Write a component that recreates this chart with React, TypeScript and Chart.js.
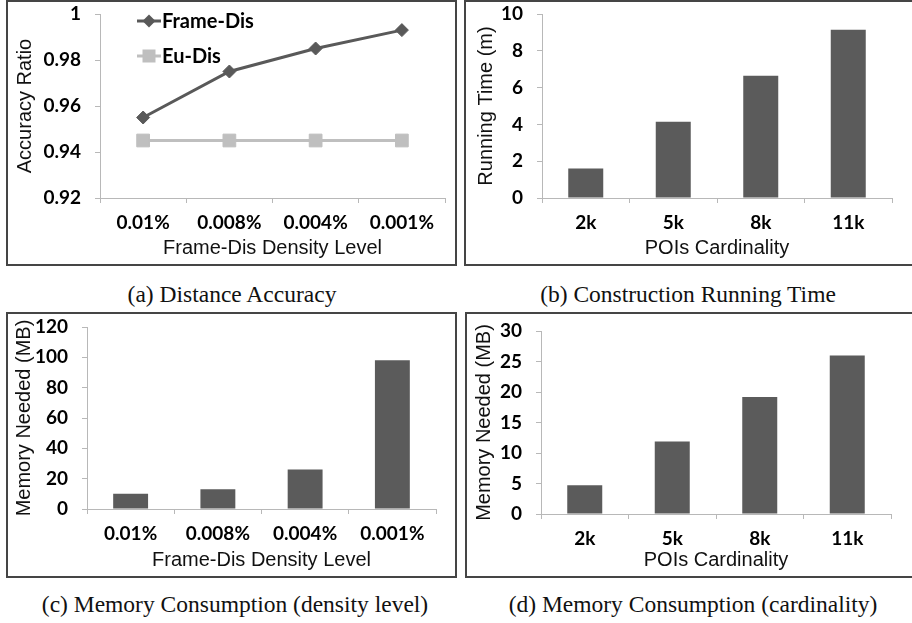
import React, { useEffect, useRef } from 'react';
import { Chart, registerables } from 'chart.js';

Chart.register(...registerables);

// ---------- data ----------
const densityLevels = ['0.01%', '0.008%', '0.004%', '0.001%'];
const cardinalities = ['2k', '5k', '8k', '11k'];

const frameDisAccuracy = [0.955, 0.975, 0.985, 0.993];
const euDisAccuracy = [0.945, 0.945, 0.945, 0.945];

const runningTimeMin = [1.6, 4.15, 6.65, 9.15];
const memoryByDensityMB = [10, 13, 26, 98];
const memoryByCardinalityMB = [4.7, 11.9, 19.2, 26];

const accuracyTicks = [0.92, 0.94, 0.96, 0.98, 1];
const runningTimeTicks = [0, 2, 4, 6, 8, 10];
const memoryDensityTicks = [0, 20, 40, 60, 80, 100, 120];
const memoryCardinalityTicks = [0, 5, 10, 15, 20, 25, 30];

// ---------- styles ----------
const AXIS_GRAY = '#b8b8b8';
const DARK = '#595959';
const LIGHT = '#bfbfbf';
const TICK_FONT = { family: 'Lato, "Open Sans", sans-serif', size: 19, weight: 'bold' as const };
const TITLE_FONT = { family: '"Liberation Sans", Arial, sans-serif', size: 20, weight: 'normal' as const };

function yAxis(ticks: number[], title: string, width: number, titlePad: number) {
  return {
    min: ticks[0],
    max: ticks[ticks.length - 1],
    afterBuildTicks: (s: any) => {
      s.ticks = ticks.map((v) => ({ value: v }));
    },
    afterFit: (s: any) => {
      s.width = width;
      s.paddingTop = 0;
      s.paddingBottom = 0;
    },
    grid: { display: true, drawOnChartArea: false, drawTicks: true, tickLength: 5, color: AXIS_GRAY },
    border: { display: true, color: AXIS_GRAY, width: 1 },
    ticks: { font: TICK_FONT, color: '#000', padding: 14, callback: (v: any) => String(v) },
    title: { display: true, text: title, font: TITLE_FONT, color: '#111', padding: { top: titlePad, bottom: 0 } },
  };
}

function xAxis(height: number, title: string) {
  return {
    type: 'category' as const,
    offset: true,
    afterFit: (s: any) => {
      s.height = height;
      s.paddingLeft = 0;
      s.paddingRight = 0;
    },
    grid: { display: true, offset: true, drawOnChartArea: false, drawTicks: true, tickLength: 5, color: AXIS_GRAY },
    border: { display: true, color: AXIS_GRAY, width: 1 },
    ticks: { font: TICK_FONT, color: '#000', padding: 8, maxRotation: 0, autoSkip: false },
    title: { display: true, text: title, font: TITLE_FONT, color: '#111', padding: { top: 0, bottom: 4 } },
  };
}

function baseOptions(padTop: number, padRight: number) {
  return {
    responsive: false,
    maintainAspectRatio: false,
    animation: false as const,
    layout: { padding: { top: padTop, right: padRight, left: 0, bottom: 0 } },
    plugins: { legend: { display: false }, tooltip: { enabled: false }, title: { display: false } },
  };
}

const accuracyLegend = {
  id: 'accuracyLegend',
  afterDatasetsDraw(chart: any) {
    const { ctx, chartArea } = chart;
    chart.data.datasets.forEach((ds: any, i: number) => {
      const y = chartArea.top + 7 + i * 35;
      const x0 = chartArea.left + 37;
      const x1 = x0 + 24;
      const xm = (x0 + x1) / 2;
      ctx.save();
      ctx.strokeStyle = ds.borderColor;
      ctx.fillStyle = ds.borderColor;
      ctx.lineWidth = 3;
      ctx.beginPath();
      ctx.moveTo(x0, y);
      ctx.lineTo(x1, y);
      ctx.stroke();
      ctx.beginPath();
      if (ds.pointStyle === 'rectRot') {
        const r = 6.5;
        ctx.moveTo(xm, y - r);
        ctx.lineTo(xm + r, y);
        ctx.lineTo(xm, y + r);
        ctx.lineTo(xm - r, y);
        ctx.closePath();
      } else {
        const h = 6.5;
        ctx.rect(xm - h, y - h, 2 * h, 2 * h);
      }
      ctx.fill();
      ctx.font = 'bold 20px Lato, "Open Sans", sans-serif';
      ctx.fillStyle = '#000';
      ctx.textBaseline = 'middle';
      ctx.fillText(ds.label, x1 + 1, y + 1);
      ctx.restore();
    });
  },
};

const configA: any = {
  type: 'line',
  data: {
    labels: densityLevels,
    datasets: [
      {
        label: 'Frame-Dis',
        data: frameDisAccuracy,
        borderColor: DARK,
        backgroundColor: DARK,
        borderWidth: 3,
        pointStyle: 'rectRot',
        pointRadius: 6.5,
        pointBackgroundColor: DARK,
        pointBorderColor: DARK,
        pointBorderWidth: 1,
      },
      {
        label: 'Eu-Dis',
        data: euDisAccuracy,
        borderColor: LIGHT,
        backgroundColor: LIGHT,
        borderWidth: 3,
        pointStyle: 'rect',
        pointRadius: 9,
        pointBackgroundColor: LIGHT,
        pointBorderColor: LIGHT,
        pointBorderWidth: 1,
      },
    ],
  },
  options: {
    ...baseOptions(12, 3),
    scales: {
      x: xAxis(66, 'Frame-Dis Density Level'),
      y: yAxis(accuracyTicks, 'Accuracy Ratio', 92, 5),
    },
  },
  plugins: [accuracyLegend],
};

function barConfig(labels: string[], values: number[], ticks: number[], yTitle: string, xTitle: string,
  yW: number, xH: number, padTop: number, padRight: number, titlePad: number): any {
  return {
    type: 'bar',
    data: {
      labels,
      datasets: [
        {
          data: values,
          backgroundColor: '#5b5b5b',
          borderWidth: 0,
          categoryPercentage: 1,
          barPercentage: 0.4,
        },
      ],
    },
    options: {
      ...baseOptions(padTop, padRight),
      scales: {
        x: xAxis(xH, xTitle),
        y: yAxis(ticks, yTitle, yW, titlePad),
      },
    },
  };
}

const configB = barConfig(cardinalities, runningTimeMin, runningTimeTicks, 'Running Time (m)', 'POIs Cardinality', 76, 66, 12, 40, 8);
const configC = barConfig(densityLevels, memoryByDensityMB, memoryDensityTicks, 'Memory Needed (MB)', 'Frame-Dis Density Level', 79, 67, 13, 19, 4);
const configD = barConfig(cardinalities, memoryByCardinalityMB, memoryCardinalityTicks, 'Memory Needed (MB)', 'POIs Cardinality', 74, 62, 17, 42, 5);

function Panel({ left, top, width, height, config }: { left: number; top: number; width: number; height: number; config: any }) {
  const ref = useRef<HTMLCanvasElement>(null);
  useEffect(() => {
    const chart = new Chart(ref.current as HTMLCanvasElement, config);
    return () => chart.destroy();
  }, [config]);
  const w = width - 4;
  const h = height - 4;
  return (
    <div style={{ position: 'absolute', left, top, width: w, height: h, border: '2px solid #454545', overflow: 'hidden' }}>
      <canvas ref={ref} width={w} height={h} style={{ display: 'block', width: w, height: h }} />
    </div>
  );
}

function Caption({ cx, top, text }: { cx: number; top: number; text: string }) {
  return (
    <div
      style={{
        position: 'absolute',
        left: cx - 250,
        top,
        width: 500,
        textAlign: 'center',
        fontFamily: '"Liberation Serif", "Times New Roman", serif',
        fontSize: 23.5,
        lineHeight: '24px',
        color: '#111',
        whiteSpace: 'nowrap',
      }}
    >
      {text}
    </div>
  );
}

export default function App() {
  return (
    <div style={{ position: 'absolute', left: 0, top: 0, width: 912, height: 623, overflow: 'hidden', background: '#fff' }}>
      <Panel left={6} top={0} width={451} height={266} config={configA} />
      <Panel left={464} top={0} width={470} height={266} config={configB} />
      <Panel left={6} top={312} width={451} height={266} config={configC} />
      <Panel left={465} top={312} width={470} height={266} config={configD} />
      <Caption cx={232} top={282} text="(a) Distance Accuracy" />
      <Caption cx={688} top={282} text="(b) Construction Running Time" />
      <Caption cx={235} top={592} text="(c) Memory Consumption (density level)" />
      <Caption cx={693} top={592} text="(d) Memory Consumption (cardinality)" />
    </div>
  );
}
